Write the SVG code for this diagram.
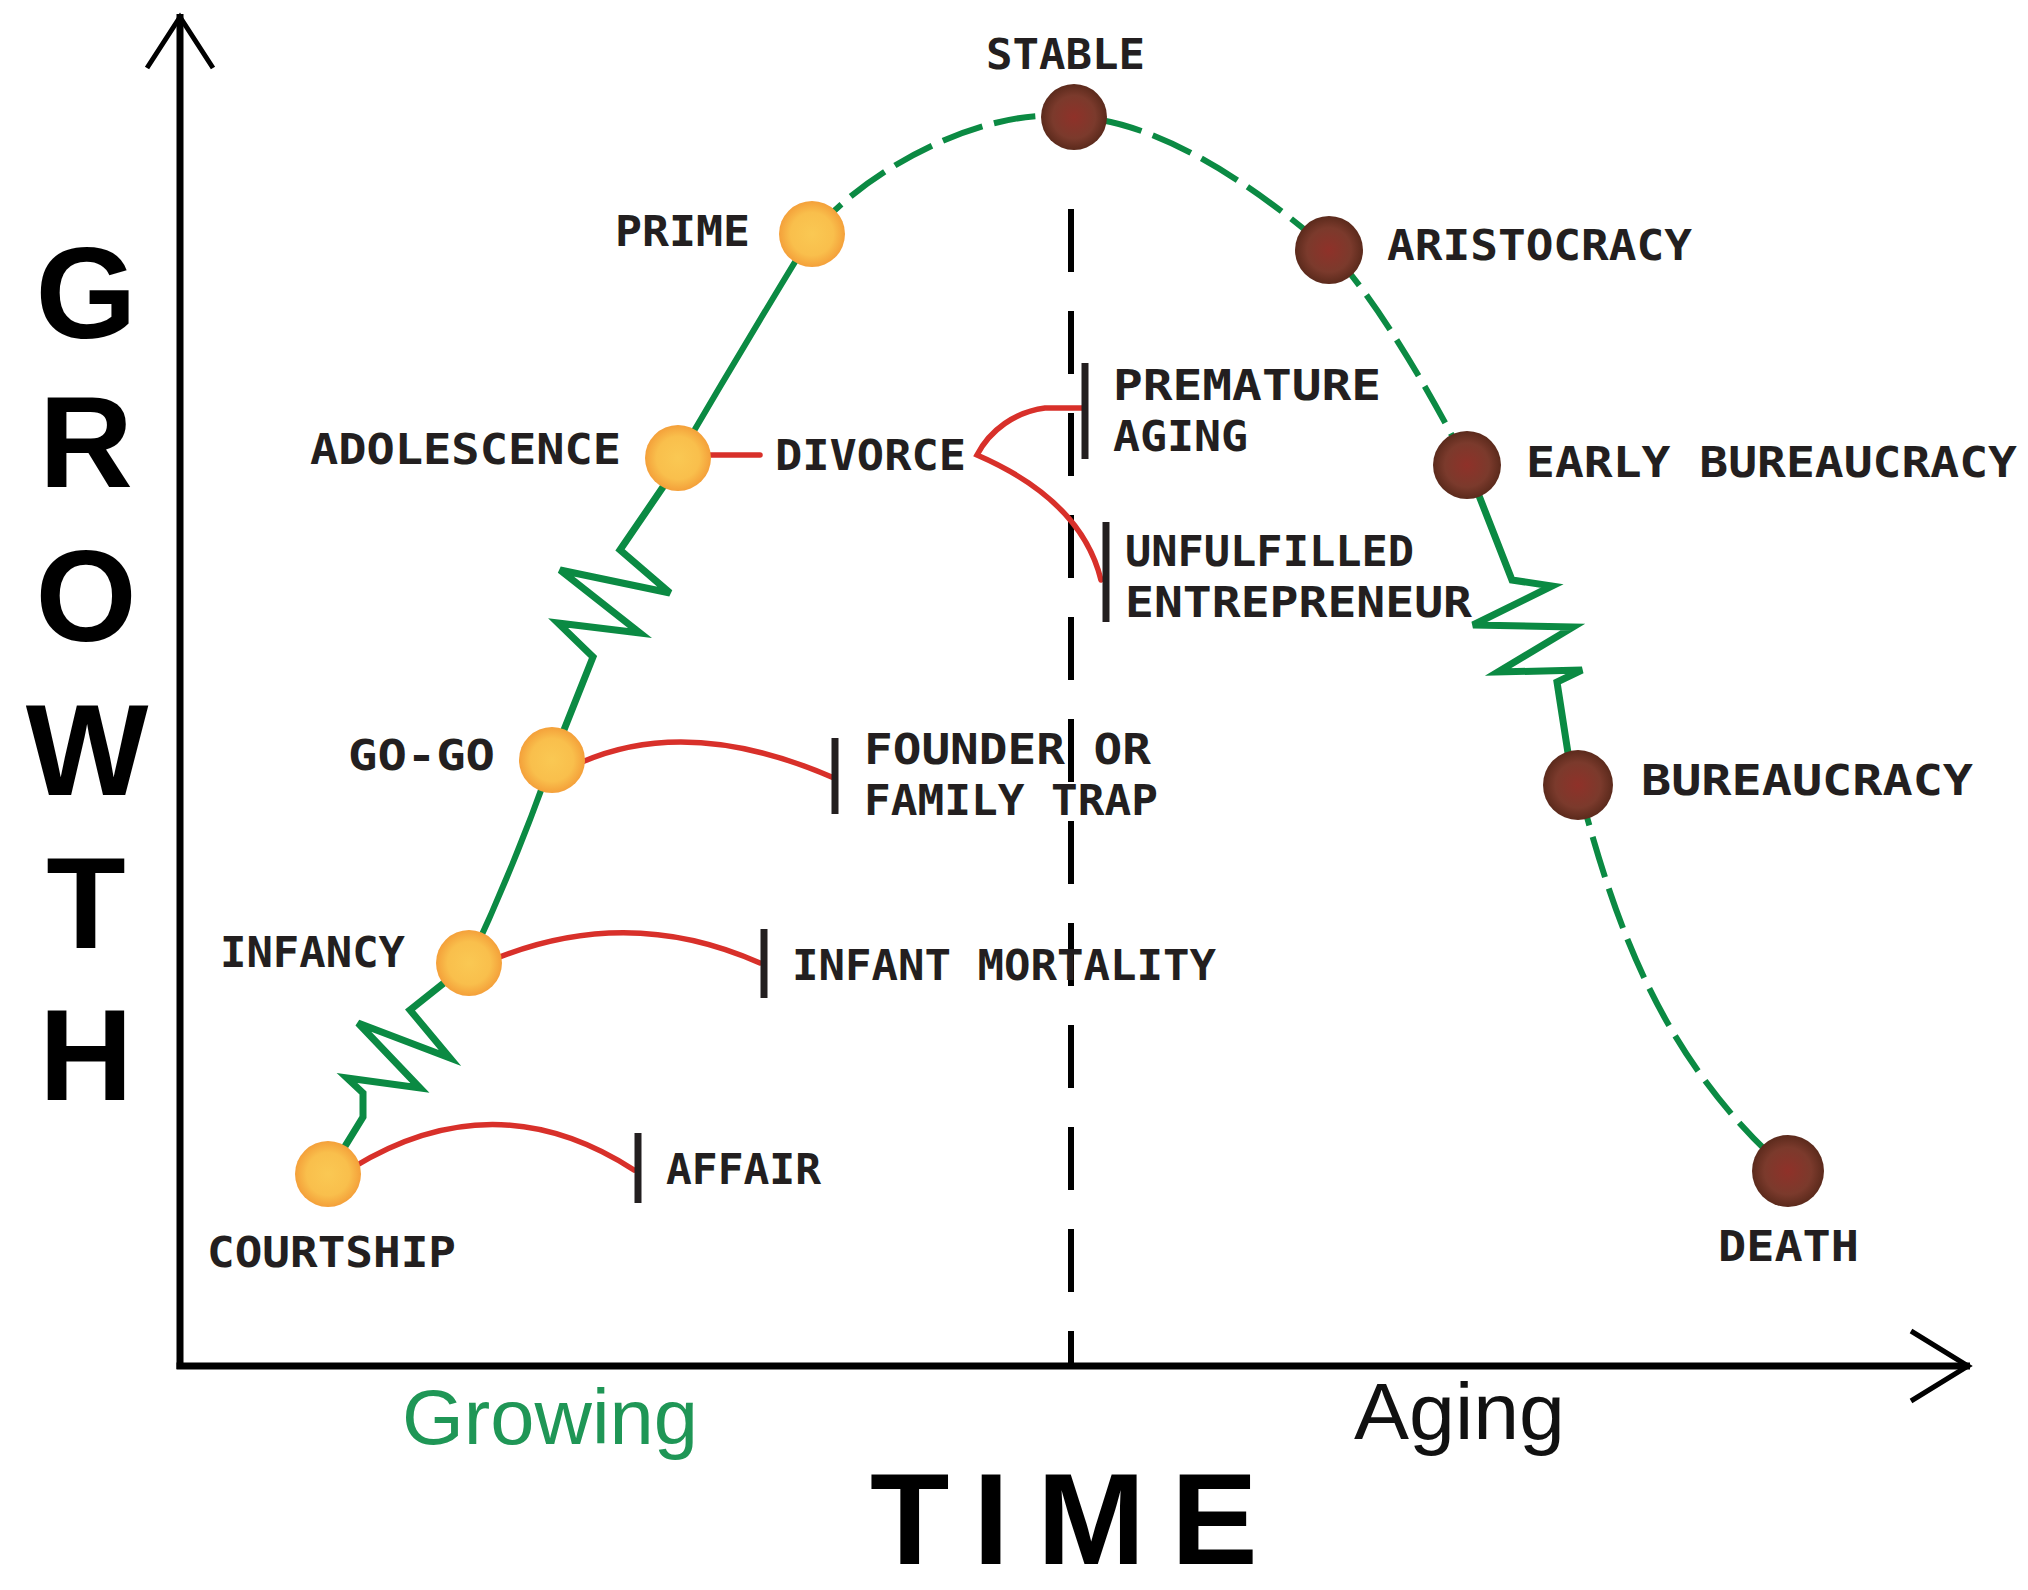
<svg xmlns="http://www.w3.org/2000/svg" width="2028" height="1590" viewBox="0 0 2028 1590">
<defs>
<radialGradient id="gOrange" cx="50%" cy="50%" r="50%">
<stop offset="0%" stop-color="#fac853"/>
<stop offset="65%" stop-color="#f9bf4c"/>
<stop offset="100%" stop-color="#f4a03a"/>
</radialGradient>
<radialGradient id="gBrown" cx="50%" cy="50%" r="50%">
<stop offset="0%" stop-color="#8f3129"/>
<stop offset="65%" stop-color="#7b3a2c"/>
<stop offset="100%" stop-color="#5b2a1c"/>
</radialGradient>
<style>
.lbl{font-family:"DejaVu Sans Mono","Liberation Mono",monospace;font-weight:bold;font-size:43px;fill:#231f20;}
.big{font-family:"Liberation Sans",Arial,sans-serif;font-weight:bold;font-size:130px;fill:#000;}
.axis{stroke:#000;stroke-width:7;fill:none;}
.ahead{stroke:#000;stroke-width:5;fill:none;}
.grn{stroke:#0b8a43;stroke-width:6;fill:none;stroke-linejoin:round;stroke-linecap:round;}
.zig{stroke-width:7;stroke-linejoin:miter;}
.dash{stroke-dasharray:42 12;stroke-linecap:butt;}
.red{stroke:#d8302a;stroke-width:5.5;fill:none;stroke-linecap:round;}
.bar{stroke:#231f20;stroke-width:7;}
.vdash{stroke:#000;stroke-width:6;stroke-dasharray:63 39;}
.on{fill:url(#gOrange);}
.bn{fill:url(#gBrown);}
</style>
</defs>
<rect width="2028" height="1590" fill="#fff"/>

<g id="axes">
<line class="axis" x1="180" y1="14" x2="180" y2="1369"/>
<line class="axis" x1="176.5" y1="1366" x2="1970" y2="1366"/>
<polyline class="ahead" points="147,68 180,17 213,68"/>
<polyline class="ahead" points="1911,1331 1968,1366 1911,1401"/>
<line class="vdash" x1="1071" y1="209" x2="1071" y2="1366"/>
<text class="big" text-anchor="middle"><tspan x="86" y="338">G</tspan><tspan x="86" y="487">R</tspan><tspan x="86" y="641">O</tspan><tspan x="87" y="795">W</tspan><tspan x="86" y="948">T</tspan><tspan x="86" y="1100">H</tspan></text>
<text class="big" x="870 973 1037 1171" y="1564" font-size="123">TIME</text>
<text x="402" y="1444" font-family="Liberation Sans, Arial, sans-serif" font-size="77" fill="#1f9656" textLength="296" lengthAdjust="spacingAndGlyphs">Growing</text>
<text x="1354" y="1439" font-family="Liberation Sans, Arial, sans-serif" font-size="80" fill="#111" textLength="211" lengthAdjust="spacingAndGlyphs">Aging</text>
</g>

<g id="connectors">
<polyline class="grn zig" points="328,1174 363,1117 363,1093 347,1078 420,1088 358,1023 450,1058 410,1010 469,963"/>
<path class="grn" d="M469,963 Q515,865 552,760"/>
<polyline class="grn zig" points="552,760 593,657 558,623 640,633 560,570 670,593 620,550 663,487 678,458"/>
<path class="grn" d="M678,458 Q743,347 812,234"/>
<path class="grn dash" d="M812,234 C870,165 990,105 1074,117 C1160,120 1260,190 1329,250 C1370,290 1430,390 1467,465"/>
<polyline class="grn zig" points="1467,465 1512,580 1552,586 1473,625 1573,627 1498,672 1582,670 1557,682 1568,753 1578,785"/>
<path class="grn dash" d="M1578,785 C1610,900 1650,1050 1788,1171"/>
<path class="red" d="M352,1168 Q495,1080 634,1170"/>
<path class="red" d="M497,958 Q630,905 760,963"/>
<path class="red" d="M582,762 Q690,715 834,778"/>
<line class="red" x1="705" y1="455" x2="760" y2="455"/>
<path class="red" d="M1083,408 L1045,408 C1015,412 990,430 977,455 C1030,478 1085,515 1101,580"/>
</g>

<g id="node-courtship"><circle class="on" cx="328" cy="1174" r="33"/><text class="lbl" x="207" y="1267" textLength="249" lengthAdjust="spacingAndGlyphs">COURTSHIP</text></g>
<g id="node-infancy"><circle class="on" cx="469" cy="963" r="33"/><text class="lbl" x="220" y="967" textLength="185" lengthAdjust="spacingAndGlyphs">INFANCY</text></g>
<g id="node-gogo"><circle class="on" cx="552" cy="760" r="33"/><text class="lbl" x="348" y="770" textLength="147" lengthAdjust="spacingAndGlyphs">GO-GO</text></g>
<g id="node-adolescence"><circle class="on" cx="678" cy="458" r="33"/><text class="lbl" x="310" y="464" textLength="311" lengthAdjust="spacingAndGlyphs">ADOLESCENCE</text></g>
<g id="node-prime"><circle class="on" cx="812" cy="234" r="33"/><text class="lbl" x="615" y="246" textLength="135" lengthAdjust="spacingAndGlyphs">PRIME</text></g>
<g id="node-stable"><circle class="bn" cx="1074" cy="117" r="33"/><text class="lbl" x="986" y="69" textLength="159" lengthAdjust="spacingAndGlyphs">STABLE</text></g>
<g id="node-aristocracy"><circle class="bn" cx="1329" cy="250" r="34"/><text class="lbl" x="1387" y="260" textLength="305" lengthAdjust="spacingAndGlyphs">ARISTOCRACY</text></g>
<g id="node-early-bureaucracy"><circle class="bn" cx="1467" cy="465" r="34"/><text class="lbl" x="1526" y="477" textLength="491" lengthAdjust="spacingAndGlyphs">EARLY BUREAUCRACY</text></g>
<g id="node-bureaucracy"><circle class="bn" cx="1578" cy="785" r="35"/><text class="lbl" x="1641" y="795" textLength="332" lengthAdjust="spacingAndGlyphs">BUREAUCRACY</text></g>
<g id="node-death"><circle class="bn" cx="1788" cy="1171" r="36"/><text class="lbl" x="1718" y="1261" textLength="141" lengthAdjust="spacingAndGlyphs">DEATH</text></g>

<g id="trap-affair"><line class="bar" x1="638" y1="1133" x2="638" y2="1203"/><text class="lbl" x="666" y="1184" textLength="155" lengthAdjust="spacingAndGlyphs">AFFAIR</text></g>
<g id="trap-infant-mortality"><line class="bar" x1="764" y1="929" x2="764" y2="998"/><text class="lbl" x="792" y="980" textLength="424" lengthAdjust="spacingAndGlyphs">INFANT MORTALITY</text></g>
<g id="trap-founder"><line class="bar" x1="835" y1="738" x2="835" y2="814"/><text class="lbl" x="864" y="764" textLength="287" lengthAdjust="spacingAndGlyphs">FOUNDER OR</text><text class="lbl" x="864" y="815" textLength="294" lengthAdjust="spacingAndGlyphs">FAMILY TRAP</text></g>
<g id="trap-divorce"><text class="lbl" x="775" y="470" textLength="191" lengthAdjust="spacingAndGlyphs">DIVORCE</text></g>
<g id="trap-premature-aging"><line class="bar" x1="1085" y1="363" x2="1085" y2="459"/><text class="lbl" x="1113" y="400" textLength="268" lengthAdjust="spacingAndGlyphs">PREMATURE</text><text class="lbl" x="1113" y="451" textLength="135" lengthAdjust="spacingAndGlyphs">AGING</text></g>
<g id="trap-unfulfilled"><line class="bar" x1="1106" y1="522" x2="1106" y2="622"/><text class="lbl" x="1125" y="566" textLength="289" lengthAdjust="spacingAndGlyphs">UNFULFILLED</text><text class="lbl" x="1125" y="617" textLength="347" lengthAdjust="spacingAndGlyphs">ENTREPRENEUR</text></g>
</svg>
